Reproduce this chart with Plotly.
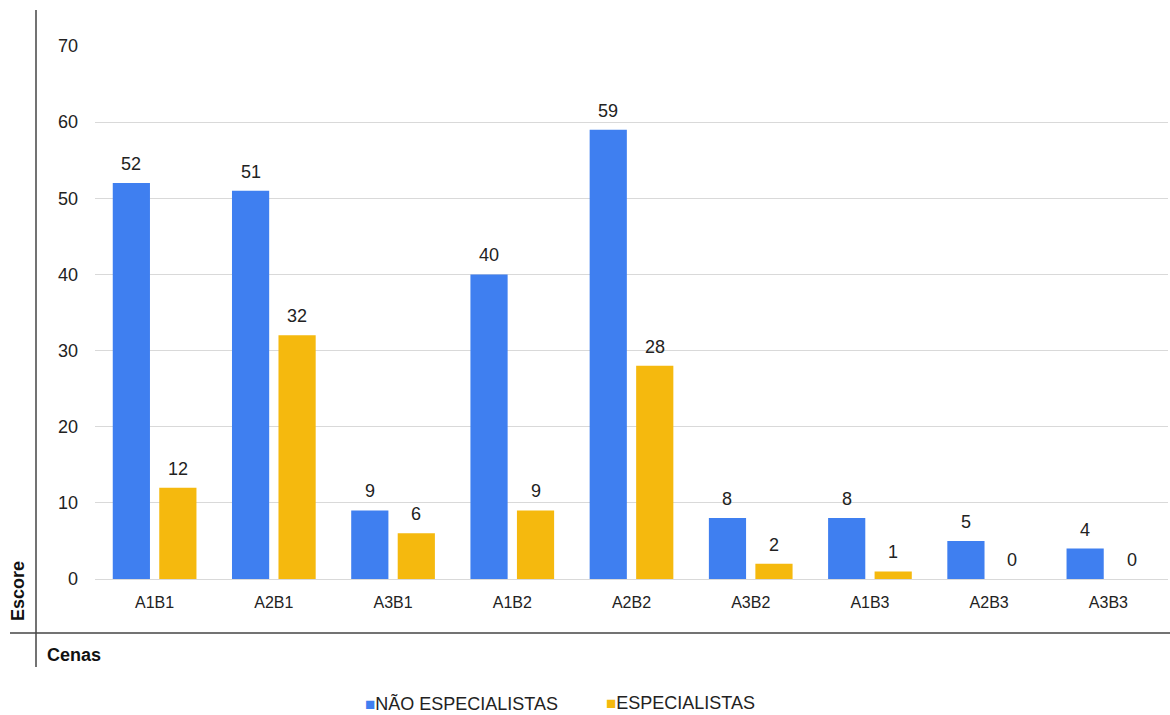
import plotly.graph_objects as go

categories = ["A1B1", "A2B1", "A3B1", "A1B2", "A2B2", "A3B2", "A1B3", "A2B3", "A3B3"]
nao_especialistas = [52, 51, 9, 40, 59, 8, 8, 5, 4]
especialistas = [12, 32, 6, 9, 28, 2, 1, 0, 0]
y_ticks = [0, 10, 20, 30, 40, 50, 60, 70]
series_names = ["NÃO ESPECIALISTAS", "ESPECIALISTAS"]
series_colors = ["#3f7ff0", "#f5b90e"]

W, H = 1170, 715
ML, MR, MT, MB = 95, 2, 46, 136
pw, ph = W - ML - MR, H - MT - MB

def px_x(x):
    return (x - ML) / pw

def px_y(y):
    return (H - MB - y) / ph

FAM = "Liberation Sans, Arial, sans-serif"
label_font = dict(family=FAM, size=18, color="#222222")
tick_font = dict(family=FAM, size=16, color="#222222")

fig = go.Figure()
for name, vals, col, off in [(series_names[0], nao_especialistas, series_colors[0], 0),
                             (series_names[1], especialistas, series_colors[1], 1)]:
    fig.add_trace(go.Bar(
        x=categories, y=vals, name=name, offsetgroup=str(off),
        marker=dict(color=col, line=dict(width=0)),
        showlegend=False, cliponaxis=False,
    ))

annotations = []
slot = 0.39
for i, cat in enumerate(categories):
    for vals, sgn in [(nao_especialistas, -1), (especialistas, 1)]:
        annotations.append(dict(
            x=i + sgn * slot / 2, y=vals[i], xref="x", yref="y", text=str(vals[i]),
            showarrow=False, yanchor="bottom", xanchor="center", yshift=7, font=label_font,
        ))

annotations += [
    dict(text="<b>Escore</b>", xref="paper", yref="paper", x=px_x(18), y=px_y(591),
         showarrow=False, textangle=-90, font=dict(family=FAM, size=18, color="#111111"),
         xanchor="center", yanchor="middle"),
    dict(text="<b>Cenas</b>", xref="paper", yref="paper", x=px_x(45), y=px_y(655),
         showarrow=False, font=dict(family=FAM, size=18, color="#111111"), xanchor="left", yanchor="middle"),
    dict(text='<span style="color:%s;font-size:17px">■</span>%s' % (series_colors[0], series_names[0]),
         xref="paper", yref="paper", x=px_x(363), y=px_y(703), showarrow=False,
         font=dict(family=FAM, size=18, color="#222222"), xanchor="left", yanchor="middle"),
    dict(text='<span style="color:%s;font-size:17px">■</span>%s' % (series_colors[1], series_names[1]),
         xref="paper", yref="paper", x=px_x(604), y=px_y(703), showarrow=False,
         font=dict(family=FAM, size=18, color="#222222"), xanchor="left", yanchor="middle"),
]

fig.update_layout(
    width=W, height=H,
    margin=dict(l=ML, r=MR, t=MT, b=MB, autoexpand=False),
    paper_bgcolor="white", plot_bgcolor="white",
    barmode="group", bargap=0.22, bargroupgap=0.2,
    font=label_font,
    showlegend=False,
    xaxis=dict(range=[-0.5, len(categories) - 0.5], showgrid=False, showline=False, ticks="",
               tickmode="array", tickvals=list(range(len(categories))), ticktext=categories,
               tickfont=tick_font, ticklabelstandoff=12),
    yaxis=dict(range=[0, 70], tickvals=y_ticks, showgrid=True, gridcolor="#d9d9d9", gridwidth=1,
               zeroline=True, zerolinecolor="#d9d9d9", zerolinewidth=1,
               showline=False, ticks="", tickfont=label_font, ticklabelstandoff=16),
    shapes=[
        dict(type="line", xref="paper", yref="paper", x0=px_x(36), x1=px_x(36), y0=px_y(10), y1=px_y(667),
             line=dict(color="#444444", width=1.5)),
        dict(type="line", xref="paper", yref="paper", x0=px_x(10), x1=px_x(1170), y0=px_y(633), y1=px_y(633),
             line=dict(color="#444444", width=1.5)),
    ],
    annotations=annotations,
)

fig.write_html("out.html")
